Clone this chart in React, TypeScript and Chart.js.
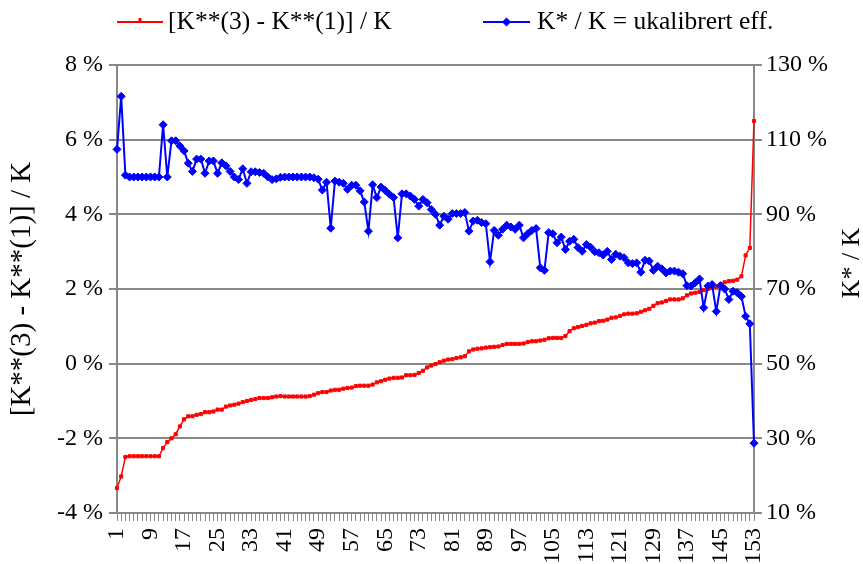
import React, { useEffect, useRef } from 'react';
import { Chart, registerables } from 'chart.js';

Chart.register(...registerables);

const FONT = "'Liberation Serif', 'Times New Roman', serif";
const TICK_SIZE = 24;
const LEGEND_SIZE = 25.5;
const LEFT_TITLE_SIZE = 29;
const RIGHT_TITLE_SIZE = 26;
const GREY = '#888888';
const RED = '#FF0000';
const BLUE = '#0000FF';

const categories = [
  1, 2, 3, 4, 5, 6, 7, 8, 9, 10,
  11, 12, 13, 14, 15, 16, 17, 18, 19, 20,
  21, 22, 23, 24, 25, 26, 27, 28, 29, 30,
  31, 32, 33, 34, 35, 36, 37, 38, 39, 40,
  41, 42, 43, 44, 45, 46, 47, 48, 49, 50,
  51, 52, 53, 54, 55, 56, 57, 58, 59, 60,
  61, 62, 63, 64, 65, 66, 67, 68, 69, 70,
  71, 72, 73, 74, 75, 76, 77, 78, 79, 80,
  81, 82, 83, 84, 85, 86, 87, 88, 89, 90,
  91, 92, 93, 94, 95, 96, 97, 98, 99, 100,
  101, 102, 103, 104, 105, 106, 107, 108, 109, 110,
  111, 112, 113, 114, 115, 116, 117, 118, 119, 120,
  121, 122, 123, 124, 125, 126, 127, 128, 129, 130,
  131, 132, 133, 134, 135, 136, 137, 138, 139, 140,
  141, 142, 143, 144, 145, 146, 147, 148, 149, 150,
  151, 152, 153,
];

const shownTickLabels = [1, 9, 17, 25, 33, 41, 49, 57, 65, 73, 81, 89, 97, 105, 113, 121, 129, 137, 145, 153];

// [K**(3) - K**(1)] / K, in percent (left axis)
const spreadValues = [
  -3.33, -3.02, -2.50, -2.48, -2.48, -2.48, -2.48, -2.48, -2.48, -2.48,
  -2.48, -2.26, -2.10, -2.00, -1.89, -1.68, -1.49, -1.41, -1.41, -1.37,
  -1.35, -1.30, -1.30, -1.28, -1.23, -1.23, -1.15, -1.12, -1.10, -1.07,
  -1.03, -1.00, -0.97, -0.95, -0.92, -0.92, -0.92, -0.90, -0.88, -0.87,
  -0.88, -0.88, -0.88, -0.88, -0.88, -0.88, -0.87, -0.83, -0.79, -0.76,
  -0.76, -0.72, -0.70, -0.70, -0.67, -0.65, -0.64, -0.60, -0.59, -0.59,
  -0.59, -0.56, -0.50, -0.47, -0.43, -0.40, -0.38, -0.38, -0.37, -0.31,
  -0.31, -0.30, -0.25, -0.19, -0.10, -0.05, -0.01, 0.04, 0.08, 0.11,
  0.12, 0.15, 0.17, 0.20, 0.33, 0.38, 0.40, 0.41, 0.43, 0.44,
  0.45, 0.46, 0.50, 0.53, 0.53, 0.53, 0.53, 0.54, 0.58, 0.60,
  0.60, 0.62, 0.64, 0.68, 0.69, 0.69, 0.69, 0.74, 0.87, 0.95,
  0.98, 1.01, 1.04, 1.08, 1.10, 1.14, 1.15, 1.18, 1.23, 1.24,
  1.28, 1.32, 1.34, 1.34, 1.35, 1.39, 1.43, 1.47, 1.55, 1.62,
  1.64, 1.68, 1.72, 1.72, 1.72, 1.75, 1.83, 1.88, 1.90, 1.92,
  1.97, 2.00, 2.03, 2.06, 2.12, 2.18, 2.21, 2.22, 2.25, 2.34,
  2.90, 3.10, 6.50,
];

// K* / K = ukalibrert eff., in percent (right axis)
const efficiencyValues = [
  107.4, 121.6, 100.5, 100, 100, 100, 100, 100, 100, 100,
  100, 114, 100, 109.7, 109.7, 108.3, 107, 103.7, 101.5, 104.8,
  104.8, 101, 104.3, 104.3, 101, 103.8, 103, 101.5, 100, 99.3,
  102.2, 98.3, 101.4, 101.4, 101.2, 101, 100, 99.3, 99.5, 99.9,
  100, 100, 100, 100, 100, 100, 100, 99.8, 99.4, 96.5,
  98.6, 86.3, 98.9, 98.6, 98.3, 96.7, 97.8, 97.8, 96.3, 93.3,
  85.5, 97.9, 94.5, 97.3, 96.4, 95.4, 94.5, 83.7, 95.5, 95.5,
  94.9, 94, 92.2, 94, 93.1, 91.3, 90, 87.1, 89.5, 88.7,
  90.2, 90.2, 90.2, 90.5, 85.5, 88.2, 88.4, 87.8, 87.5, 77.3,
  85.7, 84.4, 86, 87.1, 86.6, 86, 87.1, 83.7, 84.8, 85.7,
  86.2, 75.7, 75, 85.1, 84.8, 82.4, 83.9, 80.6, 82.8, 83.3,
  81.1, 80.1, 81.9, 81.2, 80, 79.7, 79.1, 80.1, 77.9, 79.3,
  78.8, 78.4, 77, 76.8, 77, 74.5, 77.7, 77.5, 75, 76.1,
  75.4, 74.3, 74.8, 74.8, 74.5, 74.1, 70.9, 70.8, 71.7, 72.7,
  65, 70.8, 71.2, 64, 70.9, 70, 67.2, 69.4, 69, 68,
  62.7, 60.7, 28.7,
];

const leftTicks = [-4, -2, 0, 2, 4, 6, 8];
const rightTicks = [10, 30, 50, 70, 90, 110, 130];

const seriesLabels = ['[K**(3) - K**(1)] / K', 'K* / K = ukalibrert eff.'];
const leftAxisTitle = '[K**(3) - K**(1)] / K';
const rightAxisTitle = 'K* / K';

// Legend (line + marker + label) and the right axis title (rotated like Excel, bottom-to-top)
const decorPlugin = {
  id: 'excelDecor',
  afterDraw(chart: any) {
    const ctx = chart.ctx as CanvasRenderingContext2D;
    const y = 22;
    ctx.save();
    ctx.font = `${LEGEND_SIZE}px ${FONT}`;
    ctx.textBaseline = 'middle';
    ctx.textAlign = 'left';

    // red item
    ctx.strokeStyle = RED;
    ctx.lineWidth = 2;
    ctx.beginPath();
    ctx.moveTo(117, y);
    ctx.lineTo(163, y);
    ctx.stroke();
    ctx.fillStyle = RED;
    ctx.fillRect(138.5, y - 4, 3, 4);
    ctx.fillStyle = '#000';
    ctx.fillText(chart.data.datasets[0].label, 168, y);

    // blue item
    ctx.strokeStyle = BLUE;
    ctx.lineWidth = 2;
    ctx.beginPath();
    ctx.moveTo(483, y);
    ctx.lineTo(530, y);
    ctx.stroke();
    ctx.fillStyle = BLUE;
    ctx.beginPath();
    ctx.moveTo(506.5 - 4.5, y);
    ctx.lineTo(506.5, y - 4.5);
    ctx.lineTo(506.5 + 4.5, y);
    ctx.lineTo(506.5, y + 4.5);
    ctx.closePath();
    ctx.fill();
    ctx.fillStyle = '#000';
    ctx.fillText(chart.data.datasets[1].label, 537, y);

    // right axis title
    const rs = chart.scales.y1;
    ctx.font = `${RIGHT_TITLE_SIZE}px ${FONT}`;
    ctx.textAlign = 'center';
    ctx.textBaseline = 'middle';
    ctx.translate(rs.right - 11, 263);
    ctx.rotate(-Math.PI / 2);
    ctx.fillText(rightAxisTitle, 0, 0);
    ctx.restore();
  },
};

export default function App() {
  const canvasRef = useRef<HTMLCanvasElement | null>(null);

  useEffect(() => {
    document.body.style.margin = '0';
    const canvas = canvasRef.current;
    if (!canvas) return;
    const tickFont = { family: FONT, size: TICK_SIZE };

    const chart = new Chart(canvas, {
      type: 'line',
      data: {
        labels: categories.map(String),
        datasets: [
          {
            label: seriesLabels[0],
            data: spreadValues,
            yAxisID: 'y',
            borderColor: RED,
            backgroundColor: RED,
            borderWidth: 1.5,
            pointStyle: 'rect',
            pointRadius: 2.2,
            pointBorderWidth: 1,
            pointBorderColor: RED,
            pointBackgroundColor: RED,
            tension: 0,
            order: 2,
          },
          {
            label: seriesLabels[1],
            data: efficiencyValues,
            yAxisID: 'y1',
            borderColor: BLUE,
            backgroundColor: BLUE,
            borderWidth: 2,
            pointStyle: 'rectRot',
            pointRadius: 4,
            pointBorderWidth: 1,
            pointBorderColor: BLUE,
            pointBackgroundColor: BLUE,
            tension: 0,
            order: 1,
          },
        ],
      },
      options: {
        responsive: false,
        animation: false,
        devicePixelRatio: 1,
        layout: { padding: { top: 65, left: 0, right: 0, bottom: 0 } },
        plugins: {
          legend: { display: false },
          tooltip: { enabled: false },
        },
        scales: {
          x: {
            type: 'category',
            offset: false,
            grid: {
              drawOnChartArea: false,
              drawTicks: true,
              tickLength: 8,
              color: GREY,
              lineWidth: 1,
            },
            border: { color: GREY, width: 2 },
            ticks: {
              autoSkip: false,
              minRotation: 90,
              maxRotation: 90,
              padding: 7,
              color: '#000',
              font: tickFont,
              callback: (_v: any, i: number) =>
                shownTickLabels.includes(categories[i]) ? String(categories[i]) : '',
            },
            afterFit: (s: any) => {
              s.height = 51;
            },
          },
          y: {
            type: 'linear',
            position: 'left',
            min: -4,
            max: 8,
            afterBuildTicks: (s: any) => {
              s.ticks = leftTicks.map((v) => ({ value: v }));
            },
            ticks: {
              color: '#000',
              font: tickFont,
              padding: 6,
              callback: (v: any) => `${v} %`,
            },
            grid: { color: GREY, lineWidth: 2, drawTicks: true, tickLength: 8 },
            border: { color: GREY, width: 2 },
            title: {
              display: true,
              text: leftAxisTitle,
              color: '#000',
              font: { family: FONT, size: LEFT_TITLE_SIZE },
              padding: { top: 5, bottom: 0 },
            },
            afterFit: (s: any) => {
              s.width = 117;
            },
          },
          y1: {
            type: 'linear',
            position: 'right',
            min: 10,
            max: 130,
            afterBuildTicks: (s: any) => {
              s.ticks = rightTicks.map((v) => ({ value: v }));
            },
            ticks: {
              color: '#000',
              font: tickFont,
              padding: 4,
              callback: (v: any) => `${v} %`,
            },
            grid: {
              drawOnChartArea: false,
              color: GREY,
              lineWidth: 2,
              drawTicks: true,
              tickLength: 8,
            },
            border: { color: GREY, width: 2 },
            afterFit: (s: any) => {
              s.width = 109;
            },
          },
        },
      },
      plugins: [decorPlugin],
    });

    return () => {
      chart.destroy();
    };
  }, []);

  return (
    <div style={{ width: 863, height: 564, background: '#fff' }}>
      <canvas ref={canvasRef} width={863} height={564} style={{ display: 'block' }} />
    </div>
  );
}
